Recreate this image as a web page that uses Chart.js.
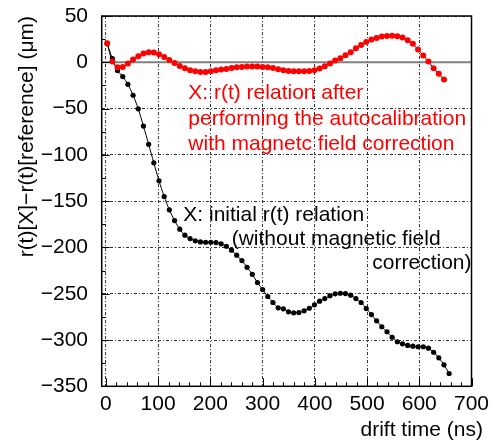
<!DOCTYPE html>
<html><head><meta charset="utf-8">
<script src="https://cdn.jsdelivr.net/npm/chart.js@4.4.0/dist/chart.umd.min.js"></script>
<style>html,body{margin:0;padding:0;background:#fff;}</style>
</head><body>
<canvas id="c" width="500" height="441" style="display:block;width:500px;height:441px"></canvas>
<script>
// drift time of each point (ns)
const driftTime = [2.5, 12.4, 22.3, 32.3, 42.2, 52.1, 62.0, 71.9, 81.9, 91.8,
  101.7, 111.6, 121.5, 131.5, 141.4, 151.3, 161.2, 171.1, 181.1, 191.0,
  200.9, 210.8, 220.7, 230.7, 240.6, 250.5, 260.4, 270.3, 280.3, 290.2,
  300.1, 310.0, 319.9, 329.9, 339.8, 349.7, 359.6, 369.5, 379.5, 389.4,
  399.3, 409.2, 419.1, 429.1, 439.0, 448.9, 458.8, 468.7, 478.7, 488.6,
  498.5, 508.4, 518.3, 528.3, 538.2, 548.1, 558.0, 567.9, 577.9, 587.8,
  597.7, 607.6, 617.5, 627.5, 637.4, 647.3, 657.2];
// red: after autocalibration with magnetic field correction (um)
const afterCalibration = [20.5, 0.8, -5.4, -5.0, -1.4, 2.9, 6.5, 9.4, 10.8, 10.5,
  8.6, 5.8, 2.6, -0.7, -3.9, -6.5, -8.6, -9.7, -10.4, -10.4,
  -9.7, -8.6, -7.9, -7.2, -6.1, -5.4, -5.0, -4.6, -4.6, -4.6,
  -5.0, -5.4, -6.1, -7.5, -8.6, -9.3, -9.7, -9.7, -9.7, -9.3,
  -8.6, -6.8, -4.3, -1.4, 1.8, 4.3, 7.6, 10.8, 15.1, 18.8,
  22.0, 24.5, 26.3, 27.8, 28.5, 28.8, 28.1, 26.7, 23.8, 19.9,
  13.7, 7.2, 0.8, -6.5, -12.5, -18.7];
// black: initial r(t) relation (um)
const initialRelation = [20, 4, -9.0, -15.4, -23.8, -35.6, -50.3, -68.9, -88.6, -108.6,
  -128.0, -145.0, -159.4, -171.0, -180.3, -186.8, -190.4, -192.9, -194.0, -194.4,
  -194.4, -194.7, -196.1, -198.7, -203.0, -208.4, -214.2, -221.5, -229.0, -238.0,
  -245.5, -253.0, -259.5, -265.2, -266.3, -269.5, -270.6, -270.3, -268.5, -265.7,
  -262.0, -258.1, -255.2, -252.3, -250.1, -249.5, -249.8, -251.6, -255.2, -259.5,
  -266.0, -272.5, -279.3, -285.7, -291.1, -297.0, -301.9, -304.1, -305.9, -306.7,
  -307.3, -307.3, -308.8, -313.2, -319.2, -326.8, -336.2];
const xTickValues = [0, 100, 200, 300, 400, 500, 600, 700];
const yTickValues = [50, 0, -50, -100, -150, -200, -250, -300, -350];
const xTitle = 'drift time (ns)';
const yTitle = 'r(t)[X]\u2212r(t)[reference] (\u03bcm)';
const redNote = ['X: r(t) relation after', 'performing the autocalibration', 'with magnetc field correction'];
const blackNote = ['X: initial r(t) relation', '(without magnetic field', 'correction)'];

const FONT = '"Liberation Sans", Arial, Helvetica, sans-serif';

const redPts = afterCalibration.map((v, i) => ({x: driftTime[i], y: v}));
const blackPts = initialRelation.map((v, i) => ({x: driftTime[i], y: v}));

const decor = {
  id: 'decor',
  beforeDatasetsDraw(chart) {
    const {ctx, chartArea: a, scales: {y}} = chart;
    const py = y.getPixelForValue(0);
    ctx.save();
    ctx.strokeStyle = '#808080';
    ctx.lineWidth = 2;
    ctx.beginPath(); ctx.moveTo(a.left, py); ctx.lineTo(a.right, py); ctx.stroke();
    ctx.restore();
  },
  afterDraw(chart) {
    const {ctx, chartArea: a, scales: {x, y}} = chart;
    ctx.save();
    ctx.strokeStyle = '#000';
    ctx.lineWidth = 1;
    for (let v = 0; v <= 700; v += 20) {
      const px = Math.round(x.getPixelForValue(v)) + 0.5;
      const len = v % 100 === 0 ? 8 : 4;
      ctx.beginPath(); ctx.moveTo(px, a.bottom); ctx.lineTo(px, a.bottom - len); ctx.stroke();
    }
    for (let v = -350; v <= 50; v += 25) {
      const py = Math.round(y.getPixelForValue(v)) + 0.5;
      const len = v % 50 === 0 ? 8 : 4;
      ctx.beginPath(); ctx.moveTo(a.left, py); ctx.lineTo(a.left + len, py); ctx.stroke();
    }
    ctx.lineWidth = 1.5;
    ctx.strokeRect(a.left, a.top, a.right - a.left, a.bottom - a.top);
    ctx.font = '21px ' + FONT;
    ctx.textBaseline = 'alphabetic';
    ctx.fillStyle = '#ff0000';
    ctx.textAlign = 'left';
    ctx.fillText(redNote[0], 188.3, 99);
    ctx.fillText(redNote[1], 188.3, 124.5);
    ctx.fillText(redNote[2], 188.3, 150);
    ctx.fillStyle = '#000';
    ctx.fillText(blackNote[0], 183.3, 221);
    ctx.fillText(blackNote[1], 231.7, 244.5);
    ctx.textAlign = 'right';
    ctx.fillText(blackNote[2], 471.5, 268.5);
    ctx.textBaseline = 'middle';
    ctx.fillText(xTitle, 483, 430);
    ctx.restore();
  }
};

new Chart(document.getElementById('c'), {
  type: 'scatter',
  data: {
    datasets: [
      {label: 'after autocalibration', data: redPts, showLine: true,
       borderColor: '#000', borderWidth: 1, tension: 0.3,
       pointBackgroundColor: '#ff0000', pointBorderWidth: 0, pointRadius: 3},
      {label: 'initial', data: blackPts, showLine: true,
       borderColor: '#000', borderWidth: 1, tension: 0.3,
       pointBackgroundColor: '#000', pointBorderWidth: 0, pointRadius: 2.6}
    ]
  },
  options: {
    responsive: false,
    devicePixelRatio: 1,
    animation: false,
    layout: {padding: {left: 0, top: 16, right: 28.5, bottom: 0}},
    plugins: {legend: {display: false}, tooltip: {enabled: false}},
    scales: {
      x: {
        type: 'linear', min: -8, max: 700,
        afterBuildTicks: s => { s.ticks = xTickValues.map(v => ({value: v})); },
        afterFit: s => { s.height = 54.7; s.paddingLeft = 0; s.paddingRight = 0; },
        ticks: {color: '#000', font: {family: FONT, size: 21}, padding: 5, maxRotation: 0, autoSkip: false},
        grid: {color: '#333', lineWidth: 1, drawTicks: false},
        border: {display: false, dash: [3, 2, 1, 2]}
      },
      y: {
        type: 'linear', min: -350, max: 50,
        afterBuildTicks: s => { s.ticks = yTickValues.map(v => ({value: v})); },
        afterFit: s => { s.width = 101.7; s.paddingTop = 0; s.paddingBottom = 0; },
        ticks: {color: '#000', font: {family: FONT, size: 21}, padding: 13.7,
                callback: v => String(v).replace('-', '\u2212')},
        grid: {color: '#333', lineWidth: 1, drawTicks: false},
        border: {display: false, dash: [3, 2, 1, 2]},
        title: {display: true, text: yTitle, align: 'end', color: '#000',
                font: {family: FONT, size: 21}, padding: {top: 14.4, bottom: 0}}
      }
    }
  },
  plugins: [decor]
});
</script>
</body></html>
